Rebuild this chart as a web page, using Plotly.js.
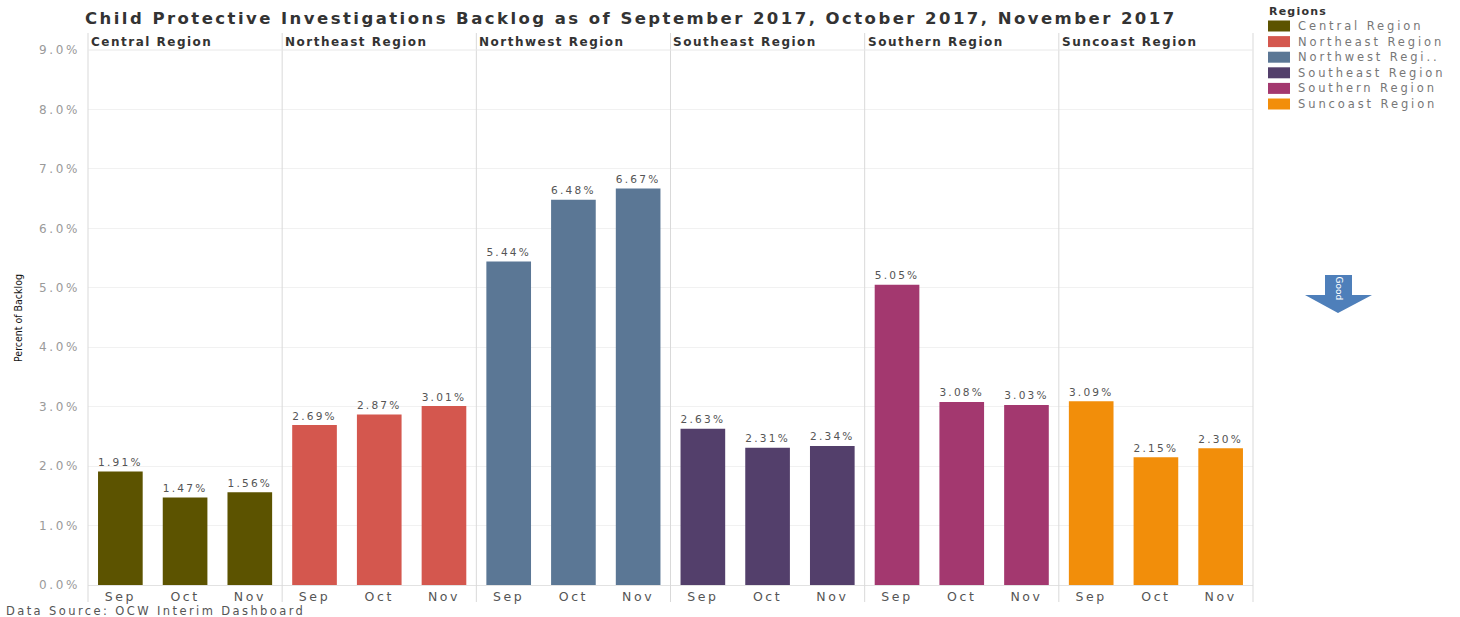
<!DOCTYPE html>
<html>
<head>
<meta charset="utf-8">
<script src="https://cdn.plot.ly/plotly-3.0.1.min.js"></script>
<style>
html,body{margin:0;padding:0;background:#fff;}
#chart{width:1460px;height:617px;}
.gtitle{letter-spacing:2.45px;}
.yaxislayer-above text{letter-spacing:2.6px;}
.xaxislayer-above text{letter-spacing:2.6px;}
text.bartext{letter-spacing:2.6px;}
</style>
</head>
<body>
<div id="chart"></div>
<script>
// ---- data ----
var regions = ['Central Region','Northeast Region','Northwest Region','Southeast Region','Southern Region','Suncoast Region'];
var legendLabels = ['Central Region','Northeast Region','Northwest Regi..','Southeast Region','Southern Region','Suncoast Region'];
var months = ['Sep','Oct','Nov'];
var central   = [1.91, 1.47, 1.56];
var northeast = [2.69, 2.87, 3.01];
var northwest = [5.44, 6.48, 6.67];
var southeast = [2.63, 2.31, 2.34];
var southern  = [5.05, 3.08, 3.03];
var suncoast  = [3.09, 2.15, 2.30];
var yTicks = [0,1,2,3,4,5,6,7,8,9];
var colors = ['#5c5300','#d4574e','#5b7795','#533f6b','#a3386f','#f28e0a'];

var seriesList = [central, northeast, northwest, southeast, southern, suncoast];

// ---- geometry helpers (pixel -> paper) ----
var L = 88, R = 1253, T = 50, B = 585;
var W = R - L, H = B - T;
function px(x){ return (x - L) / W; }
function py(y){ return (B - y) / H; }

var FONT = 'DejaVu Sans, Open Sans, sans-serif';
var n = regions.length;
var traces = [];
var annSpacing = [];
var layout = {
  width: 1460, height: 617,
  margin: {l: L, r: 1460 - R, t: T, b: 617 - B},
  paper_bgcolor: '#ffffff', plot_bgcolor: '#ffffff',
  showlegend: false,
  bargap: 0.31,
  font: {family: FONT, color: '#555'},
  title: {
    text: 'Child Protective Investigations Backlog as of September 2017, October 2017, November 2017',
    x: 85/1460, xanchor: 'left', y: 1 - 18/617, yanchor: 'middle',
    font: {family: 'DejaVu Sans, sans-serif', size: 16.5, color: '#333', weight: 600}
  },
  yaxis: {
    range: [0, 9], tickvals: yTicks,
    ticktext: yTicks.map(function(v){ return v.toFixed(1) + '%'; }),
    tickfont: {size: 12, color: '#9a9a9a', family: FONT},
    gridcolor: '#f1f1f1', gridwidth: 1, zeroline: false, showline: false,
    ticks: '', ticklabelstandoff: 7, fixedrange: true
  },
  shapes: [], annotations: []
};

function addAnn(a, spacing){ layout.annotations.push(a); annSpacing.push(spacing || 0); }

for (var i = 0; i < n; i++) {
  var ax = i === 0 ? 'x' : 'x' + (i + 1);
  var axName = i === 0 ? 'xaxis' : 'xaxis' + (i + 1);
  traces.push({
    type: 'bar', x: months, y: seriesList[i], xaxis: ax, yaxis: 'y',
    name: regions[i],
    marker: {color: colors[i], line: {width: 0}},
    text: seriesList[i].map(function(v){ return v.toFixed(2) + '%'; }),
    textposition: 'outside', cliponaxis: false,
    textfont: {size: 12.5, color: '#555', family: FONT},
    hoverinfo: 'x+y'
  });
  layout[axName] = {
    domain: [i / n, (i + 1) / n], anchor: 'y',
    type: 'category', categoryarray: months,
    showgrid: false, zeroline: false,
    showline: true, linecolor: '#e2e2e2', linewidth: 1,
    ticks: '', tickfont: {size: 12.5, color: '#555', family: FONT},
    ticklabelstandoff: 0, fixedrange: true
  };
  // panel header
  addAnn({
    xref: 'paper', yref: 'paper', x: i / n + 1 / W, y: py(42),
    xanchor: 'left', yanchor: 'middle', showarrow: false,
    text: regions[i], font: {size: 12, color: '#333', family: FONT, weight: 600}
  }, 1.5);
}

// panel dividers
for (var k = 0; k <= n; k++) {
  layout.shapes.push({type: 'line', xref: 'paper', yref: 'paper',
    x0: k / n, x1: k / n, y0: py(602), y1: py(33),
    line: {color: '#d9d9d9', width: 1}});
}
// header separator
layout.shapes.push({type: 'line', xref: 'paper', yref: 'paper',
  x0: 0, x1: 1, y0: 1, y1: 1, line: {color: '#e8e8e8', width: 1}});

// y axis title
addAnn({
  xref: 'paper', yref: 'paper', x: px(18), y: py(318),
  xanchor: 'center', yanchor: 'middle', showarrow: false, textangle: -90,
  text: 'Percent of Backlog',
  font: {size: 10.5, color: '#111', family: 'Liberation Sans Narrow, DejaVu Sans Condensed, sans-serif'}
}, 0);

// data source
addAnn({
  xref: 'paper', yref: 'paper', x: px(4), y: py(611),
  xanchor: 'left', yanchor: 'middle', showarrow: false,
  text: 'Data Source: OCW Interim Dashboard',
  font: {size: 11.5, color: '#555', family: FONT}
}, 2.4);

// legend (manual)
addAnn({
  xref: 'paper', yref: 'paper', x: px(1267), y: py(11),
  xanchor: 'left', yanchor: 'middle', showarrow: false,
  text: 'Regions', font: {size: 11, color: '#333', family: FONT, weight: 600}
}, 1.2);
for (var j = 0; j < n; j++) {
  var cy = 26 + 15.6 * j;
  layout.shapes.push({type: 'rect', xref: 'paper', yref: 'paper',
    x0: px(1268), x1: px(1290), y0: py(cy + 5.5), y1: py(cy - 5.5),
    fillcolor: colors[j], line: {width: 0}});
  addAnn({
    xref: 'paper', yref: 'paper', x: px(1296), y: py(cy),
    xanchor: 'left', yanchor: 'middle', showarrow: false,
    text: legendLabels[j], font: {size: 11.5, color: '#777', family: FONT}
  }, 2.9);
}

// "Good" arrow
var pts = [[1325,275],[1352,275],[1352,295],[1372,295],[1338,313],[1305,295],[1325,295]];
var path = pts.map(function(p, idx){ return (idx ? 'L' : 'M') + px(p[0]) + ',' + py(p[1]); }).join(' ') + ' Z';
layout.shapes.push({type: 'path', xref: 'paper', yref: 'paper', path: path,
  fillcolor: '#4e7fba', line: {width: 0}});
addAnn({
  xref: 'paper', yref: 'paper', x: px(1338.5), y: py(288),
  xanchor: 'center', yanchor: 'middle', showarrow: false, textangle: 90,
  text: 'Good', font: {size: 9, color: '#ffffff', family: FONT}
}, 0);

Plotly.newPlot('chart', traces, layout, {displayModeBar: false, staticPlot: true}).then(function(gd){
  var nodes = gd.querySelectorAll('.annotation-text');
  nodes.forEach(function(t, idx){
    var sp = annSpacing[idx];
    if (!sp) return;
    var before = t.getComputedTextLength();
    t.style.letterSpacing = sp + 'px';
    var after = t.getComputedTextLength();
    var dx = (after - before) / 2;
    var x0 = parseFloat(t.getAttribute('x')) || 0;
    t.setAttribute('x', x0 + dx);
  });
});
</script>
</body>
</html>
